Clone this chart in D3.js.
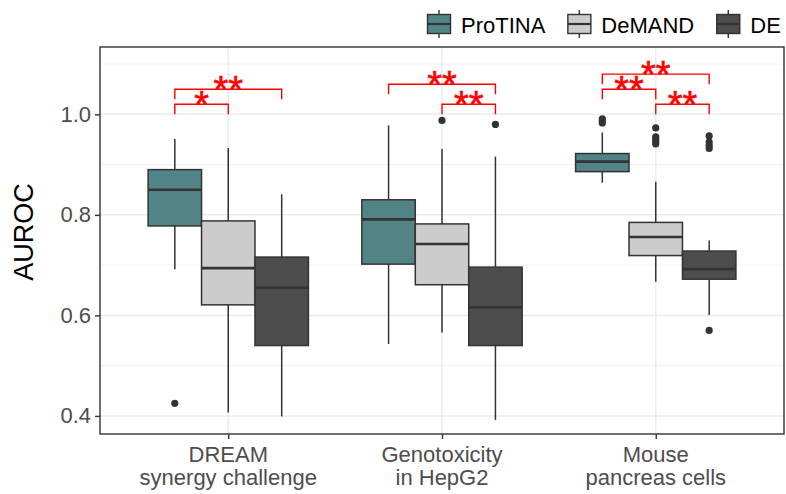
<!DOCTYPE html>
<html>
<head>
<meta charset="utf-8">
<script src="https://cdn.jsdelivr.net/npm/d3@7"></script>
<style>
  body { margin: 0; background: #fff; }
  svg { display: block; font-family: "Liberation Sans", Arial, sans-serif; }
</style>
</head>
<body>
<svg id="chart" width="786" height="494"></svg>
<script>
// categories (two-line tick labels)
const categories = ["DREAM", "Genotoxicity", "Mouse"];
const catLabels = [
  ["DREAM", "synergy challenge"],
  ["Genotoxicity", "in HepG2"],
  ["Mouse", "pancreas cells"]
];
const methods = ["ProTINA", "DeMAND", "DE"];
const colors = ["#528386", "#cccccc", "#4d4d4d"];

// box stats per category: [whisker low, q1, median, q3, whisker high]
const protina = [
  [0.692, 0.778, 0.850, 0.890, 0.951],
  [0.543, 0.702, 0.791, 0.830, 0.978],
  [0.864, 0.886, 0.906, 0.922, 0.964]
];
const demand = [
  [0.407, 0.621, 0.694, 0.788, 0.933],
  [0.566, 0.661, 0.742, 0.782, 0.931],
  [0.667, 0.719, 0.756, 0.785, 0.866]
];
const de = [
  [0.399, 0.540, 0.655, 0.716, 0.841],
  [0.392, 0.540, 0.616, 0.696, 0.916],
  [0.601, 0.672, 0.692, 0.728, 0.749]
];

// outliers per category
const protinaOut = [[0.425], [], [0.991, 0.987, 0.983]];
const demandOut = [[], [0.988], [0.973, 0.955, 0.950, 0.945, 0.941]];
const deOut = [[], [0.980], [0.957, 0.945, 0.938, 0.932, 0.570]];

// significance brackets
const brackets = [
  { cat: "DREAM", from: "ProTINA", to: "DeMAND", y: 1.02, label: "*" },
  { cat: "DREAM", from: "ProTINA", to: "DE", y: 1.05, label: "**" },
  { cat: "Genotoxicity", from: "ProTINA", to: "DE", y: 1.06, label: "**" },
  { cat: "Genotoxicity", from: "DeMAND", to: "DE", y: 1.02, label: "**" },
  { cat: "Mouse", from: "ProTINA", to: "DE", y: 1.08, label: "**" },
  { cat: "Mouse", from: "ProTINA", to: "DeMAND", y: 1.05, label: "**" },
  { cat: "Mouse", from: "DeMAND", to: "DE", y: 1.02, label: "**" }
];
const tip = 0.02;

const yTicks = [0.4, 0.6, 0.8, 1.0];
const yMinor = [0.5, 0.7, 0.9, 1.1];

const statsByMethod = [protina, demand, de];
const outByMethod = [protinaOut, demandOut, deOut];

const pLeft = 100, pRight = 784, pTop = 47, pBottom = 434;
const svg = d3.select("#chart");

const x = d3.scalePoint().domain(categories).range([pLeft, pRight]).padding(0.6);
const step = x.step();
const xOff = d3.scaleBand().domain(methods).range([-0.375 * step, 0.375 * step]);
const bw = xOff.bandwidth();
const y = d3.scaleLinear().domain([0.364, 1.134]).range([pBottom, pTop]);

const cx = (cat, m) => x(cat) + xOff(m) + bw / 2;

// grid
const grid = svg.append("g");
grid.selectAll(".minor").data(yMinor).enter().append("line")
  .attr("x1", pLeft).attr("x2", pRight)
  .attr("y1", d => y(d)).attr("y2", d => y(d))
  .attr("stroke", "#f2f2f2").attr("stroke-width", 1);
grid.selectAll(".major").data(yTicks).enter().append("line")
  .attr("x1", pLeft).attr("x2", pRight)
  .attr("y1", d => y(d)).attr("y2", d => y(d))
  .attr("stroke", "#ebebeb").attr("stroke-width", 1.5);
grid.selectAll(".vmajor").data(categories).enter().append("line")
  .attr("x1", d => x(d)).attr("x2", d => x(d))
  .attr("y1", pTop).attr("y2", pBottom)
  .attr("stroke", "#ebebeb").attr("stroke-width", 1.5);

// boxes
const rows = [];
methods.forEach((m, mi) => {
  categories.forEach((c, ci) => {
    const s = statsByMethod[mi][ci];
    rows.push({ m, mi, c, lo: s[0], q1: s[1], med: s[2], q3: s[3], hi: s[4], out: outByMethod[mi][ci] });
  });
});

const box = svg.append("g").selectAll("g").data(rows).enter().append("g");
box.append("line")
  .attr("x1", d => cx(d.c, d.m)).attr("x2", d => cx(d.c, d.m))
  .attr("y1", d => y(d.hi)).attr("y2", d => y(d.q3))
  .attr("stroke", "#333").attr("stroke-width", 1.5);
box.append("line")
  .attr("x1", d => cx(d.c, d.m)).attr("x2", d => cx(d.c, d.m))
  .attr("y1", d => y(d.q1)).attr("y2", d => y(d.lo))
  .attr("stroke", "#333").attr("stroke-width", 1.5);
box.append("rect")
  .attr("x", d => x(d.c) + xOff(d.m))
  .attr("width", bw)
  .attr("y", d => y(d.q3))
  .attr("height", d => y(d.q1) - y(d.q3))
  .attr("fill", d => colors[d.mi])
  .attr("stroke", "#333").attr("stroke-width", 1.5);
box.append("line")
  .attr("x1", d => x(d.c) + xOff(d.m)).attr("x2", d => x(d.c) + xOff(d.m) + bw)
  .attr("y1", d => y(d.med)).attr("y2", d => y(d.med))
  .attr("stroke", "#333").attr("stroke-width", 2.6);
box.selectAll("circle").data(d => d.out.map(v => ({ v, c: d.c, m: d.m }))).enter()
  .append("circle")
  .attr("cx", d => cx(d.c, d.m)).attr("cy", d => y(d.v))
  .attr("r", 3.6).attr("fill", "#333");

// brackets
const br = svg.append("g").selectAll("g").data(brackets).enter().append("g");
br.append("path")
  .attr("d", d => {
    const x1 = cx(d.cat, d.from), x2 = cx(d.cat, d.to);
    return "M" + x1 + "," + y(d.y - tip) + "V" + y(d.y) + "H" + x2 + "V" + y(d.y - tip);
  })
  .attr("fill", "none").attr("stroke", "#ff0000").attr("stroke-width", 1.4);
br.append("text")
  .attr("x", d => (cx(d.cat, d.from) + cx(d.cat, d.to)) / 2)
  .attr("y", d => y(d.y) + 14)
  .attr("text-anchor", "middle")
  .attr("fill", "#ff0000")
  .attr("stroke", "#ff0000").attr("stroke-width", 0.6)
  .style("font-size", "38px")
  .text(d => d.label);

// panel border
svg.append("rect")
  .attr("x", pLeft).attr("y", pTop)
  .attr("width", pRight - pLeft).attr("height", pBottom - pTop)
  .attr("fill", "none").attr("stroke", "#333").attr("stroke-width", 1.4);

// y axis
const yAxis = svg.append("g")
  .attr("transform", "translate(" + pLeft + ",0)")
  .call(d3.axisLeft(y).tickValues(yTicks).tickFormat(d3.format(".1f")).tickSize(5).tickPadding(4));
yAxis.select(".domain").remove();
yAxis.selectAll(".tick line").attr("stroke", "#333").attr("stroke-width", 1.4);
yAxis.selectAll(".tick text")
  .attr("fill", "#4d4d4d")
  .style("font-size", "22px")
  .style("font-family", "Liberation Sans, Arial, sans-serif");

// x axis
const xAxis = svg.append("g")
  .attr("transform", "translate(0," + pBottom + ")")
  .call(d3.axisBottom(x).tickSize(5).tickFormat(""));
xAxis.select(".domain").remove();
xAxis.selectAll(".tick line").attr("stroke", "#333").attr("stroke-width", 1.4);

svg.append("g").selectAll("text").data(categories).enter().append("text")
  .attr("x", d => x(d))
  .attr("text-anchor", "middle")
  .attr("fill", "#4d4d4d")
  .style("font-size", "22px")
  .each(function(d, i) {
    const t = d3.select(this);
    catLabels[i].forEach((line, li) => {
      t.append("tspan").attr("x", x(d)).attr("y", 462 + li * 23).text(line);
    });
  });

// y title
svg.append("text")
  .attr("transform", "translate(33,232) rotate(-90)")
  .attr("text-anchor", "middle")
  .attr("fill", "#000")
  .style("font-size", "27px")
  .text("AUROC");

// legend
const legend = svg.append("g");
let lx = 427;
methods.forEach((m, i) => {
  const g = legend.append("g").attr("transform", "translate(" + lx + ",0)");
  g.append("line").attr("x1", 12).attr("x2", 12).attr("y1", 10).attr("y2", 38)
    .attr("stroke", "#333").attr("stroke-width", 1.4);
  g.append("rect").attr("x", 0.5).attr("y", 14.5).attr("width", 23).attr("height", 19)
    .attr("fill", colors[i]).attr("stroke", "#333").attr("stroke-width", 1.4);
  g.append("line").attr("x1", 0.5).attr("x2", 23.5).attr("y1", 24).attr("y2", 24)
    .attr("stroke", "#333").attr("stroke-width", 2.2);
  const t = g.append("text").attr("x", 34).attr("y", 33)
    .attr("fill", "#000").style("font-size", "22px").text(m);
  lx += 34 + t.node().getComputedTextLength() + 22;
});
</script>
</body>
</html>
